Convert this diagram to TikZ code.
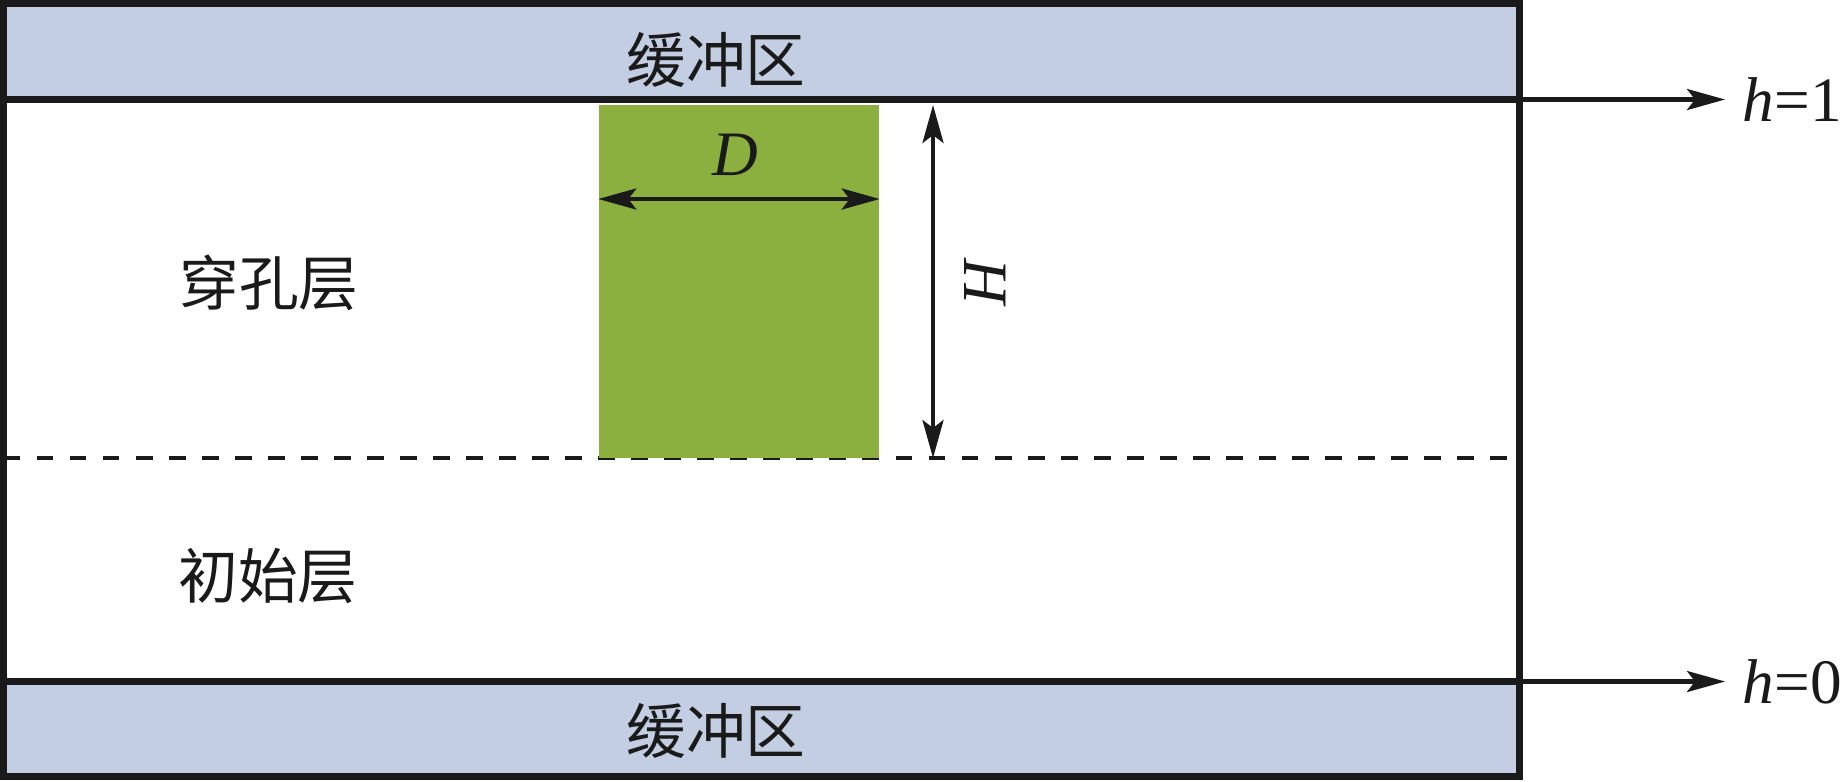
\documentclass[tikz,border=0pt]{standalone}
\usepackage{fontspec}
\setmainfont{Liberation Serif}
\newfontfamily\cjk{Noto Sans CJK SC}
\usepackage{tikz}
\usetikzlibrary{arrows.meta, positioning, calc}
\definecolor{BufFill}{HTML}{C4CEE2}
\definecolor{PileFill}{HTML}{8BB040}
\definecolor{FigInk}{HTML}{1A1A1A}

\begin{document}
\begin{tikzpicture}[
    font=\fontsize{18}{20}\selectfont,
    frame/.style={draw=FigInk, line width=2pt},
    pile/.style={
      fill=PileFill,
      draw=none,
      inner sep=0pt,
      minimum width=2.80cm,
      minimum height=3.53cm,
    },
    layertext/.style={font=\cjk\fontsize{17}{19}\selectfont, text=FigInk, inner sep=0pt},
    dim/.style={line width=1.2pt, draw=FigInk, {Stealth[length=0.38cm, width=0.21cm, inset=0.08cm]}-{Stealth[length=0.38cm, width=0.21cm, inset=0.08cm]}},
    level/.style={line width=1.2pt, draw=FigInk, -{Stealth[length=0.38cm, width=0.21cm, inset=0.08cm]}},
    mathlabel/.style={text=FigInk, inner sep=0pt},
  ]
    \useasboundingbox (0,0) rectangle (18.40,7.81);

    % buffer zones and domain
    \fill[BufFill] (0.035,6.815) rectangle (15.195,7.775);
    \fill[BufFill] (0.035,0.05) rectangle (15.195,0.995);
    \draw[dashed, line width=1.4pt, dash pattern=on 4.8pt off 4.6pt, FigInk] (0.035,3.23) -- (15.195,3.23);
    \node[pile] (pile) at (7.39,4.995) {};
    \draw[frame] (0.035,6.815) -- (15.195,6.815);
    \draw[frame] (0.035,0.995) -- (15.195,0.995);
    \draw[frame] (0.035,0.05) rectangle (15.195,7.775);

    % labels
    \node[layertext] (topbuf) at (7.16,7.21) {缓冲区};
    \node[layertext] (botbuf) at (7.16,0.50) {缓冲区};
    \node[layertext] (perf) at (2.69,4.98) {穿孔层};
    \node[layertext] (init) at (2.68,2.05) {初始层};

    % dimensions
    \draw[dim] (pile.west |- 0,5.82) -- (pile.east |- 0,5.82);
    \node[mathlabel] (dlab) at (7.35,6.26) {\textit{D}};
    \coordinate (htop) at (9.33,6.76);
    \coordinate (hbot) at (9.33,3.23);
    \draw[dim] (htop) -- (hbot);
    \node[mathlabel, rotate=-90] (hlab) at (9.85,4.98) {\textit{H}};

    % level markers
    \coordinate (lvl1) at (15.195,6.815);
    \coordinate (lvl0) at (15.195,0.995);
    \node[mathlabel, anchor=west] (h1) at (17.42,6.815) {\textit{h}=1};
    \node[mathlabel, anchor=west] (h0) at (17.42,0.995) {\textit{h}=0};
    \draw[level, shorten >=0.17cm] (lvl1) -- (h1.west);
    \draw[level, shorten >=0.17cm] (lvl0) -- (h0.west);
  \end{tikzpicture}
\end{document}
